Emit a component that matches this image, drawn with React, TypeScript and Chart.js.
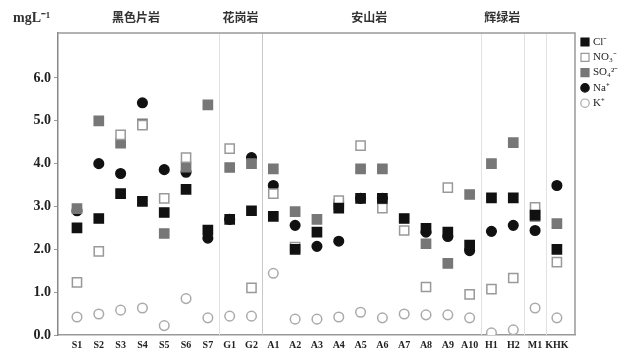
import React, { useEffect, useRef } from "react";
import { Chart, registerables } from "chart.js";

Chart.register(...registerables);

const sites = ["S1", "S2", "S3", "S4", "S5", "S6", "S7", "G1", "G2", "A1", "A2", "A3", "A4", "A5", "A6", "A7", "A8", "A9", "A10", "H1", "H2", "M1", "KHK"];
const cl = [2.5, 2.72, 3.3, 3.12, 2.86, 3.4, 2.45, 2.7, 2.9, 2.77, 2.0, 2.4, 2.96, 3.19, 3.19, 2.72, 2.49, 2.4, 2.1, 3.2, 3.2, 2.8, 2.0];
const no3 = [1.23, 1.95, 4.67, 4.9, 3.19, 4.14, null, 4.35, 1.1, 3.3, 2.05, null, 3.14, 4.42, 2.96, 2.44, 1.12, 3.44, 0.95, 1.07, 1.33, 2.98, 1.7];
const so4 = [2.95, 5.0, 4.48, 4.93, 2.37, 3.92, 5.37, 3.91, 4.0, 3.88, 2.88, 2.7, 3.05, 3.88, 3.88, null, 2.13, 1.67, 3.28, 4.0, 4.49, 2.77, 2.6];
const na = [2.9, 4.0, 3.77, 5.42, 3.86, 3.8, 2.26, 2.7, 4.14, 3.49, 2.56, 2.07, 2.19, 3.19, 3.19, null, 2.4, 2.3, 1.97, 2.42, 2.56, 2.44, 3.49];
const k = [0.42, 0.49, 0.58, 0.63, 0.22, 0.85, 0.4, 0.44, 0.44, 1.44, 0.37, 0.37, 0.42, 0.53, 0.4, 0.49, 0.47, 0.47, 0.4, 0.05, 0.12, 0.63, 0.4];
const yTicks = [0, 1, 2, 3, 4, 5, 6];
const groups = [
  { label: "黑色片岩", center: 2.7 },
  { label: "花岗岩", center: 7.5 },
  { label: "安山岩", center: 13.4 },
  { label: "辉绿岩", center: 19.5 },
];
const separators = [6.5, 8.5, 18.5, 20.5, 21.5];

const toPts = (arr: (number | null)[]) =>
  arr.map((v, i) => (v === null ? null : { x: i, y: v })).filter((p) => p !== null);

const series = [
  { label: "Cl⁻", data: cl, style: "rect", r: 6.5, bg: "#111", border: "#111" },
  { label: "NO₃⁻", data: no3, style: "rect", r: 6.5, bg: "#fff", border: "#999" },
  { label: "SO₄²⁻", data: so4, style: "rect", r: 6.5, bg: "#777", border: "#777" },
  { label: "Na⁺", data: na, style: "circle", r: 4.8, bg: "#111", border: "#111" },
  { label: "K⁺", data: k, style: "circle", r: 4.8, bg: "#fff", border: "#aaa" },
];

export default function App() {
  const ref = useRef<HTMLCanvasElement>(null);
  useEffect(() => {
    document.body.style.margin = "0";
    const decor = {
      id: "decor",
      beforeDatasetsDraw(chart: any) {
        const { ctx, chartArea: a, scales } = chart;
        const xs = scales.x;
        ctx.save();
        separators.forEach((s) => {
          const px = Math.round(xs.getPixelForValue(s)) + 0.5;
          ctx.strokeStyle = s === 8.5 ? "#c8c8c8" : "#e2e2e2";
          ctx.lineWidth = 1;
          ctx.beginPath();
          ctx.moveTo(px, a.top);
          ctx.lineTo(px, a.bottom);
          ctx.stroke();
        });
        ctx.strokeStyle = "#999";
        ctx.lineWidth = 1.5;
        ctx.beginPath();
        ctx.moveTo(a.left, a.top);
        ctx.lineTo(a.right, a.top);
        ctx.lineTo(a.right, a.bottom);
        ctx.stroke();
        ctx.restore();
      },
      afterDraw(chart: any) {
        const { ctx, scales } = chart;
        const xs = scales.x;
        ctx.save();
        ctx.fillStyle = "#333";
        ctx.textAlign = "center";
        ctx.textBaseline = "middle";
        ctx.font = "bold 12px 'Noto Sans CJK SC'";
        groups.forEach((g) => ctx.fillText(g.label, xs.getPixelForValue(g.center), 17));
        ctx.font = "bold 14px 'Liberation Serif'";
        ctx.textAlign = "left";
        ctx.fillText("mgL⁻¹", 13, 18);
        // legend
        ctx.font = "11px 'Liberation Serif'";
        series.forEach((s, i) => {
          const y = 42 + i * 15.3;
          const x = 585;
          ctx.fillStyle = s.bg;
          ctx.strokeStyle = s.border;
          ctx.lineWidth = 1.2;
          ctx.beginPath();
          if (s.style === "rect") ctx.rect(x - 4, y - 4, 8, 8);
          else ctx.arc(x, y, 4.2, 0, Math.PI * 2);
          ctx.fill();
          ctx.stroke();
          ctx.fillStyle = "#222";
          ctx.fillText(s.label, 593, y);
        });
        ctx.restore();
      },
    };
    const chart = new Chart(ref.current!, {
      type: "scatter",
      data: {
        datasets: series.map((s) => ({
          label: s.label,
          data: toPts(s.data) as any,
          pointStyle: s.style as any,
          pointRadius: s.r,
          pointBackgroundColor: s.bg,
          pointBorderColor: s.border,
          pointBorderWidth: 1.5,
        })),
      },
      options: {
        animation: false,
        responsive: false,
        layout: { padding: { top: 33, right: 44, left: 0, bottom: 0 } },
        plugins: { legend: { display: false }, tooltip: { enabled: false } },
        scales: {
          x: {
            type: "linear",
            min: -0.87,
            max: 22.83,
            afterBuildTicks: (sc: any) => {
              sc.ticks = sites.map((_, i) => ({ value: i }));
            },
            afterFit: (sc: any) => {
              sc.height = 19;
            },
            ticks: {
              autoSkip: false,
              maxRotation: 0,
              padding: 4,
              color: "#222",
              font: { family: "'Liberation Serif'", size: 10, weight: "bold" },
              callback: (v: any) => sites[v] ?? "",
            },
            grid: { display: false, drawTicks: false },
            border: { display: true, color: "#999", width: 1.5 },
          },
          y: {
            min: 0,
            max: 7.05,
            afterBuildTicks: (sc: any) => {
              sc.ticks = yTicks.map((v) => ({ value: v }));
            },
            afterFit: (sc: any) => {
              sc.width = 58;
            },
            ticks: {
              padding: 3,
              color: "#222",
              font: { family: "'Liberation Serif'", size: 14, weight: "bold" },
              callback: (v: any) => Number(v).toFixed(1),
            },
            grid: { drawOnChartArea: false, drawTicks: true, tickLength: 4, color: "#999" },
            border: { display: true, color: "#888", width: 1.5 },
          },
        },
      },
      plugins: [decor],
    });
    return () => chart.destroy();
  }, []);
  return (
    <div style={{ width: 619, height: 354 }}>
      <canvas ref={ref} width={619} height={354} style={{ display: "block" }} />
    </div>
  );
}
